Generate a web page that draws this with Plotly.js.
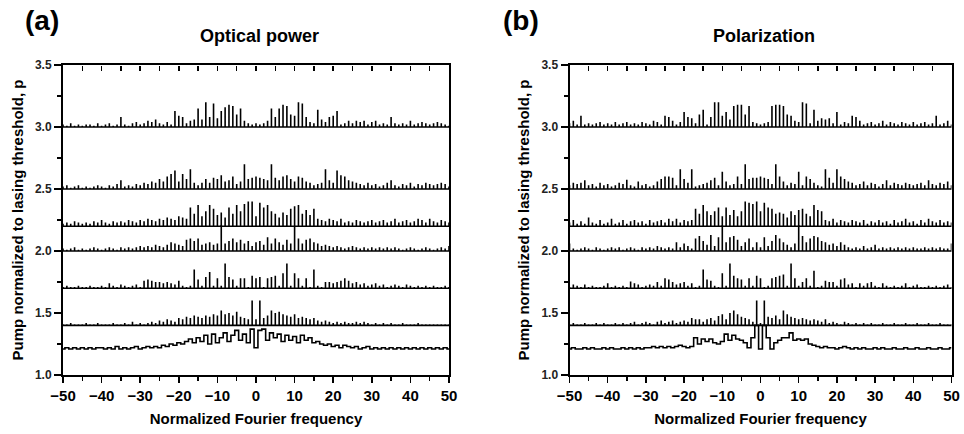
<!DOCTYPE html>
<html>
<head>
<meta charset="utf-8">
<script src="https://cdn.plot.ly/plotly-3.0.1.min.js"></script>
<style>html,body{margin:0;padding:0;background:#fff;}#chart{width:964px;height:434px;}</style>
</head>
<body>
<div id="chart"></div>
<script>
// Pump levels (vertical offsets of each spectrum)
const pumpLevels = [1.2, 1.4, 1.7, 2.0, 2.2, 2.5, 3.0];
// Normalized Fourier frequency grid -50 ... 50
const freqStart = -50, freqEnd = 50;

// ---------- Panel (a): Optical power, spectral amplitudes (in units of p) ----------
const A12 = [0.01,0.02,0.01,0.02,0.01,0.02,0.01,0.02,0.01,0.02,0.02,0.01,0.02,0.01,0.03,0.01,0.02,0.01,0.02,0.03,0.01,0.02,0.03,0.02,0.03,
 0.02,0.04,0.03,0.05,0.04,0.06,0.05,0.07,0.09,0.06,0.1,0.07,0.12,0.05,0.13,0.06,0.1,0.14,0.07,0.12,0.16,0.08,0.13,0.06,0.17,
 0.02,0.16,0.17,0.08,0.14,0.1,0.13,0.07,0.12,0.08,0.11,0.06,0.12,0.08,0.1,0.06,0.07,0.05,0.04,0.05,0.03,0.04,0.02,0.04,0.03,
 0.02,0.03,0.01,0.02,0.03,0.01,0.02,0.01,0.02,0.01,0.02,0.01,0.02,0.01,0.02,0.01,0.02,0.01,0.02,0.01,0.02,0.01,0.02,0.01,0.02,0.01];
const A14 = [0.01,0.01,0.02,0.01,0.01,0.01,0.02,0.01,0.01,0.02,0.01,0.01,0.01,0.02,0.01,0.01,0.02,0.01,0.03,0.01,0.02,
 0.01,0.02,0.03,0.02,0.04,0.03,0.05,0.04,0.03,0.06,0.05,0.07,0.06,0.08,0.07,0.06,0.08,0.07,0.09,0.08,0.12,0.09,0.1,0.08,0.11,0.07,0.06,0.05,0.2,
 0.05,0.2,0.06,0.08,0.12,0.1,0.11,0.09,0.08,0.07,0.09,0.06,0.07,0.06,0.05,0.06,0.04,0.03,0.04,0.03,0.02,0.03,0.02,0.03,0.02,
 0.02,0.03,0.02,0.03,0.02,0.01,0.02,0.01,0.02,0.01,0.02,0.01,0.01,0.02,0.01,0.01,0.01,0.02,0.01,0.01,0.01,0.01,0.01,0.01,0.01,0.01];
const A17 = [0.01,0.02,0.01,0.01,0.02,0.01,0.01,0.02,0.01,0.01,0.02,
 0.01,0.04,0.02,0.01,0.03,0.02,0.01,0.02,0.03,0.01,0.06,0.07,0.06,0.05,0.05,0.04,0.05,0.04,0.03,0.06,0.02,0.01,0.02,0.15,0.07,0.02,0.09,0.13,0.02,0.08,0.02,0.2,0.09,0.07,0.02,0.08,0.08,0.01,0.1,
 0.08,0.09,0.01,0.08,0.09,0.1,0.02,0.12,0.2,0.02,0.12,0.08,0.02,0.08,0.01,0.15,0.02,0.01,0.05,0.05,0.04,0.05,0.06,0.08,0.06,
 0.04,0.05,0.03,0.04,0.02,0.03,0.04,0.02,0.03,0.01,0.02,0.03,0.02,0.01,0.03,0.02,0.01,0.02,0.01,0.02,0.01,0.02,0.01,0.01,0.02,0.01];
const A20 = [0.02,0.01,0.02,0.03,0.01,0.02,0.01,0.02,0.03,0.02,0.01,0.02,0.03,0.02,0.01,0.03,0.02,0.03,0.02,0.03,0.04,
 0.03,0.04,0.03,0.05,0.04,0.03,0.05,0.07,0.06,0.05,0.04,0.09,0.1,0.08,0.1,0.05,0.06,0.07,0.05,0.06,0.21,0.06,0.08,0.1,0.07,0.09,0.06,0.08,0.04,
 0.07,0.08,0.05,0.11,0.06,0.1,0.07,0.05,0.09,0.06,0.2,0.1,0.06,0.09,0.1,0.07,0.06,0.04,0.05,0.04,0.03,0.04,0.03,0.02,0.03,
 0.04,0.03,0.02,0.03,0.02,0.03,0.02,0.03,0.02,0.03,0.02,0.03,0.02,0.01,0.02,0.03,0.02,0.01,0.02,0.03,0.02,0.01,0.02,0.03,0.02,0.04];
const A22 = [0.02,0.03,0.02,0.04,0.03,0.02,0.03,0.02,0.04,0.03,0.05,0.03,0.02,0.04,0.03,
 0.04,0.03,0.05,0.04,0.03,0.05,0.04,0.06,0.05,0.04,0.06,0.05,0.07,0.06,0.05,0.08,0.07,0.06,0.15,0.1,0.17,0.08,0.12,0.17,0.14,0.09,0.11,0.07,0.15,0.1,0.17,0.12,0.18,0.2,0.2,
 0.08,0.19,0.15,0.17,0.12,0.1,0.07,0.11,0.09,0.14,0.16,0.17,0.1,0.13,0.09,0.14,0.06,0.05,0.04,0.06,0.05,0.04,0.06,0.03,0.04,
 0.03,0.05,0.04,0.03,0.04,0.05,0.03,0.04,0.05,0.03,0.04,0.06,0.03,0.04,0.05,0.03,0.04,0.06,0.05,0.03,0.06,0.04,0.03,0.05,0.04,0.03];
const A25 = [0.02,0.03,0.01,0.02,0.03,0.01,0.02,
 0.01,0.02,0.03,0.02,0.01,0.03,0.02,0.04,
 0.07,0.02,0.03,0.02,0.04,0.03,0.05,0.04,0.06,0.05,0.08,0.06,0.1,0.12,0.15,0.06,0.12,0.08,0.16,0.05,0.03,0.05,0.08,0.05,0.09,0.08,0.11,0.06,0.07,0.1,0.04,0.06,0.2,0.08,0.09,
 0.1,0.09,0.08,0.07,0.2,0.09,0.07,0.1,0.11,0.08,0.06,0.1,0.09,0.06,0.05,0.03,0.04,0.05,0.16,0.07,0.05,0.15,0.11,0.1,0.07,
 0.06,0.05,0.04,0.03,0.05,0.03,0.04,0.02,0.03,0.05,0.07,0.03,0.02,0.04,0.03,0.05,0.02,0.04,0.03,0.05,0.04,0.03,0.04,0.05,0.04,0.02];
const A30 = [0.02,0.01,0.03,0.01,0.02,0.01,0.02,
 0.02,0.01,0.03,0.01,0.02,0.03,0.01,0.02,0.08,
 0.02,0.01,0.03,0.04,0.02,0.03,0.05,0.04,0.06,0.03,0.02,
 0.04,0.02,0.13,0.09,0.08,0.03,0.05,0.06,0.15,0.06,0.2,0.08,0.19,0.07,0.13,0.16,0.18,0.17,0.1,0.15,0.05,0.03,0.02,
 0.03,0.02,0.03,0.05,0.15,0.08,0.15,0.18,0.17,0.1,0.09,0.2,0.19,0.08,0.04,0.03,0.14,0.06,0.04,0.08,0.09,0.13,0.02,0.03,0.05,
 0.03,0.05,0.04,0.05,0.02,0.04,0.05,0.02,0.03,0.02,0.08,0.03,0.02,0.03,0.02,0.05,0.02,0.03,0.04,0.03,0.02,0.03,0.04,0.03,0.02,0.01];

// ---------- Panel (b): Polarization ----------
const B12 = [0.01,0.02,0.01,0.01,0.02,0.01,0.02,0.01,0.01,0.02,0.01,0.02,0.01,0.01,0.02,0.01,0.02,0.01,0.02,0.01,0.02,0.02,0.03,0.02,0.03,
 0.02,0.03,0.02,0.03,0.04,0.03,0.02,0.03,0.1,0.05,0.09,0.07,0.09,0.06,0.05,0.07,0.13,0.08,0.12,0.09,0.08,0.06,0.02,0.1,0.2,
 0.01,0.2,0.1,0.01,0.06,0.08,0.1,0.1,0.14,0.08,0.09,0.08,0.09,0.05,0.04,0.03,0.02,0.03,0.02,0.02,0.01,0.02,0.03,0.02,0.01,
 0.02,0.01,0.02,0.01,0.01,0.02,0.01,0.02,0.01,0.01,0.02,0.01,0.01,0.02,0.01,0.01,0.02,0.01,0.01,0.02,0.01,0.01,0.02,0.01,0.01,0.02];
const B14 = [0.01,0.02,0.01,0.01,0.02,0.01,0.01,0.02,0.01,0.02,0.01,0.01,0.02,0.01,0.02,
 0.01,0.02,0.03,0.01,0.02,0.03,0.02,0.01,0.03,0.04,0.02,0.03,0.04,0.02,0.03,0.04,0.03,0.06,0.05,0.05,0.03,0.05,0.06,0.04,0.075,0.09,0.05,0.1,0.12,0.09,0.07,0.06,0.05,0.03,0.2,
 0.02,0.2,0.07,0.06,0.08,0.05,0.12,0.09,0.07,0.06,0.05,0.06,0.05,0.04,0.05,0.04,0.03,0.05,0.02,0.03,0.02,0.01,0.03,0.02,0.01,
 0.02,0.01,0.02,0.01,0.02,0.01,0.01,0.02,0.01,0.01,0.02,0.01,0.01,0.02,0.01,0.01,0.02,0.01,0.01,0.02,0.01,0.01,0.02,0.01,0.01,0.01];
const B17 = [0.01,0.03,0.02,0.01,0.03,0.01,0.02,0.01,0.01,0.02,0.04,0.01,0.02,0.01,0.02,0.01,
 0.055,0.04,0.03,0.01,0.02,0.03,0.02,0.05,0.02,0.08,0.07,0.05,0.03,0.04,0.05,0.02,0.04,0.01,0.02,0.15,0.07,0.06,0.02,0.01,0.12,0.02,0.2,0.1,0.08,0.07,0.02,0.08,0.02,0.1,
 0.08,0.01,0.02,0.08,0.09,0.1,0.11,0.02,0.2,0.08,0.02,0.05,0.08,0.02,0.14,0.01,0.02,0.06,0.05,0.05,0.02,0.07,0.08,0.03,0.04,
 0.01,0.04,0.02,0.04,0.05,0.02,0.01,0.04,0.02,0.01,0.02,0.01,0.02,0.04,0.01,0.02,0.03,0.01,0.01,0.02,0.01,0.02,0.01,0.02,0.03,0.01];
const B20 = [0.06,0.02,0.01,0.02,0.03,0.02,0.01,0.03,0.02,0.01,0.02,0.03,0.02,0.03,0.01,0.02,0.03,0.02,0.01,0.03,0.02,
 0.03,0.02,0.04,0.03,0.02,0.03,0.02,0.07,0.03,0.06,0.04,0.02,0.1,0.12,0.08,0.05,0.13,0.04,0.11,0.21,0.07,0.11,0.12,0.09,0.04,0.07,0.1,0.03,0.07,
 0.03,0.11,0.04,0.08,0.13,0.1,0.07,0.05,0.03,0.06,0.21,0.12,0.07,0.1,0.12,0.11,0.08,0.07,0.05,0.06,0.04,0.07,0.05,0.03,0.02,
 0.03,0.02,0.04,0.02,0.03,0.05,0.02,0.03,0.02,0.03,0.02,0.03,0.02,0.03,0.02,0.03,0.02,0.02,0.03,0.02,0.03,0.02,0.03,0.02,0.02,0.06];
const B22 = [0.03,0.05,0.02,0.04,0.02,0.07,0.03,0.02,0.05,0.02,0.03,0.06,0.02,0.03,0.05,0.02,0.04,0.05,0.03,0.04,0.02,
 0.05,0.03,0.04,0.05,0.03,0.06,0.04,0.06,0.03,0.05,0.04,0.05,0.14,0.1,0.17,0.12,0.09,0.12,0.15,0.08,0.15,0.09,0.13,0.08,0.12,0.2,0.19,0.18,0.2,
 0.12,0.19,0.15,0.14,0.1,0.11,0.1,0.07,0.12,0.09,0.13,0.14,0.1,0.08,0.17,0.13,0.12,0.05,0.04,0.06,0.03,0.05,0.04,0.03,0.05,
 0.04,0.03,0.05,0.02,0.04,0.03,0.05,0.03,0.04,0.02,0.05,0.03,0.04,0.06,0.03,0.04,0.02,0.05,0.03,0.06,0.04,0.03,0.05,0.03,0.04,0.03];
const B25 = [0.03,0.05,0.04,0.05,0.07,0.03,0.04,0.02,0.05,0.03,0.04,0.02,0.03,0.05,0.04,0.075,
 0.03,0.02,0.06,0.03,0.04,0.02,0.03,0.06,0.08,0.1,0.1,0.09,0.03,0.16,0.08,0.05,0.16,0.02,0.03,0.04,0.05,0.07,0.09,0.03,0.14,0.06,0.03,0.04,0.1,0.04,0.2,0.08,0.09,0.09,
 0.1,0.09,0.08,0.04,0.2,0.1,0.06,0.03,0.05,0.04,0.14,0.03,0.1,0.08,0.05,0.03,0.02,0.16,0.09,0.05,0.16,0.1,0.08,0.06,0.05,
 0.03,0.04,0.06,0.03,0.05,0.04,0.02,0.04,0.07,0.03,0.05,0.04,0.03,0.05,0.04,0.03,0.04,0.05,0.03,0.07,0.04,0.03,0.05,0.04,0.06,0.03];
const B30 = [0.03,0.05,0.02,0.09,0.02,0.03,0.02,0.03,0.04,0.02,0.03,0.02,0.04,0.02,0.03,0.04,
 0.02,0.03,0.02,0.04,0.03,0.02,0.05,0.04,0.02,0.09,0.08,0.05,0.02,0.04,0.12,0.08,0.07,0.03,0.1,0.14,0.02,0.08,0.2,0.2,0.09,0.12,0.06,0.17,0.18,0.18,0.1,0.17,0.04,0.03,
 0.02,0.03,0.04,0.17,0.18,0.18,0.17,0.1,0.09,0.05,0.04,0.2,0.19,0.03,0.14,0.05,0.07,0.06,0.07,0.03,0.12,0.02,0.04,0.03,0.09,
 0.08,0.05,0.02,0.03,0.04,0.02,0.03,0.05,0.02,0.04,0.03,0.02,0.04,0.03,0.02,0.04,0.02,0.03,0.04,0.02,0.03,0.09,0.02,0.03,0.05,0.02];

const panelA = [A12, A14, A17, A20, A22, A25, A30];
const panelB = [B12, B14, B17, B20, B22, B25, B30];

// ---------------- build traces ----------------
const freqs = [];
for (let f = freqStart; f <= freqEnd; f++) freqs.push(f);

// spikes: vertical lines rising from the baseline, joined along the baseline
function spikeTrace(amp, base, xa, ya) {
  const x = [], y = [];
  amp.forEach((h, i) => {
    const f = freqs[i];
    x.push(f, f, f); y.push(base, base + h, base);
  });
  return {x, y, xaxis: xa, yaxis: ya, mode: 'lines', type: 'scatter',
    line: {color: '#000', width: 1.6}, hoverinfo: 'skip', showlegend: false};
}
// lowest level: dense, blocky continuous spectrum (step line)
function stepTrace(amp, base, xa, ya) {
  return {x: freqs, y: amp.map(h => base + h), xaxis: xa, yaxis: ya, mode: 'lines', type: 'scatter',
    line: {color: '#000', width: 1.6, shape: 'hvh'}, hoverinfo: 'skip', showlegend: false};
}

const traces = [];
[[panelA, 'x', 'y'], [panelB, 'x2', 'y2']].forEach(([panel, xa, ya]) => {
  panel.forEach((amp, k) => traces.push(k === 0 ? stepTrace(amp, pumpLevels[k], xa, ya)
                                                : spikeTrace(amp, pumpLevels[k], xa, ya)));
});
// invisible anchors so the top-side tick axes get drawn
traces.push({x: [0], y: [2], xaxis: 'x3', yaxis: 'y', mode: 'markers', marker: {opacity: 0, size: 1}, hoverinfo: 'skip', showlegend: false});
traces.push({x: [0], y: [2], xaxis: 'x4', yaxis: 'y2', mode: 'markers', marker: {opacity: 0, size: 1}, hoverinfo: 'skip', showlegend: false});

const FONT = 'Liberation Sans, Arial, sans-serif';
const W = 964, H = 434;
const yDom = [(H - 375) / H, (H - 65) / H];
const xDomA = [63 / W, 449 / W];
const xDomB = [569.5 / W, 951.5 / W];

function xAxis(dom, anchor) {
  return {domain: dom, anchor: anchor, range: [-50, 50], autorange: false,
    dtick: 10, tick0: 0, ticks: 'outside', ticklen: 6, tickwidth: 1.5, tickcolor: '#000',
    minor: {dtick: 5, tick0: 0, ticks: 'outside', ticklen: 4, tickwidth: 1.5, tickcolor: '#000'},
    showline: true, linewidth: 2, linecolor: '#000', mirror: true,
    zeroline: false, showgrid: false,
    tickfont: {family: FONT, size: 15, color: '#000', weight: 'bold'},
    title: {text: 'Normalized Fourier frequency', standoff: 10,
      font: {family: FONT, size: 15, color: '#000', weight: 'bold'}}};
}
function topAxis(dom, over) {
  return {domain: dom, overlaying: over, anchor: 'free', position: yDom[1], side: 'top',
    range: [-50, 50], autorange: false,
    tickmode: 'linear', dtick: 5, tick0: 0, ticks: 'inside', ticklen: 5, tickwidth: 1.5, tickcolor: '#000',
    showticklabels: false, showline: false, zeroline: false, showgrid: false};
}
function yAxis(dom, anchor) {
  return {domain: dom, anchor: anchor, range: [1, 3.5], autorange: false,
    dtick: 0.5, tick0: 1, tickformat: '.1f', ticks: 'outside', ticklen: 7, tickwidth: 1.5, tickcolor: '#000',
    minor: {dtick: 0.25, tick0: 1, ticks: 'outside', ticklen: 4, tickwidth: 1.5, tickcolor: '#000'},
    showline: true, linewidth: 2, linecolor: '#000', mirror: true,
    zeroline: false, showgrid: false,
    tickfont: {family: FONT, size: 12, color: '#222', weight: 'bold'},
    title: {text: 'Pump normalized to lasing threshold, p', standoff: 8,
      font: {family: FONT, size: 15, color: '#000', weight: 'bold'}}};
}

const layout = {
  width: W, height: H,
  margin: {l: 0, r: 0, t: 0, b: 0},
  paper_bgcolor: '#fff', plot_bgcolor: '#fff',
  showlegend: false,
  xaxis: xAxis(xDomA, 'y'),
  yaxis: yAxis(yDom, 'x'),
  xaxis2: xAxis(xDomB, 'y2'),
  yaxis2: yAxis(yDom, 'x2'),
  xaxis3: topAxis(xDomA, 'x'),
  xaxis4: topAxis(xDomB, 'x2'),
  annotations: [
    {text: '(a)', xref: 'paper', yref: 'paper', x: 23 / W, y: 1 - 21 / H, xanchor: 'left', yanchor: 'middle',
      showarrow: false, font: {family: FONT, size: 28, color: '#000', weight: 'bold'}},
    {text: 'Optical power', xref: 'paper', yref: 'paper', x: 259 / W, y: 1 - 36 / H, xanchor: 'center', yanchor: 'middle',
      showarrow: false, font: {family: FONT, size: 18, color: '#000', weight: 'bold'}},
    {text: '(b)', xref: 'paper', yref: 'paper', x: 501 / W, y: 1 - 21 / H, xanchor: 'left', yanchor: 'middle',
      showarrow: false, font: {family: FONT, size: 28, color: '#000', weight: 'bold'}},
    {text: 'Polarization', xref: 'paper', yref: 'paper', x: 764 / W, y: 1 - 36 / H, xanchor: 'center', yanchor: 'middle',
      showarrow: false, font: {family: FONT, size: 18, color: '#000', weight: 'bold'}}
  ]
};

Plotly.newPlot('chart', traces, layout, {displayModeBar: false, staticPlot: true});
</script>
</body>
</html>
